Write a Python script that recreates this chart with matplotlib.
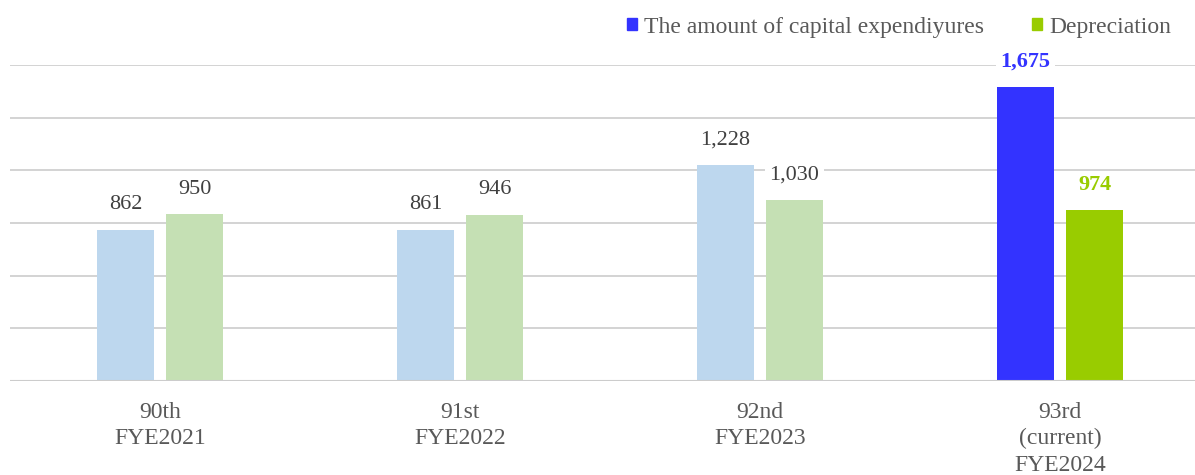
import matplotlib
matplotlib.use('Agg')
import matplotlib.pyplot as plt
import numpy as np

plt.rcParams['font.family'] = ['Liberation Serif', 'DejaVu Serif']

categories = ['90th\nFYE2021', '91st\nFYE2022', '92nd\nFYE2023', '93rd\n(current)\nFYE2024']
capex = [862, 861, 1228, 1675]
depreciation = [950, 946, 1030, 974]
capex_colors = ['#BDD7EE', '#BDD7EE', '#BDD7EE', '#3333FF']
dep_colors = ['#C5E0B4', '#C5E0B4', '#C5E0B4', '#99CC00']

fig = plt.figure(figsize=(11.95, 4.75), dpi=100)
ax = fig.add_axes([10 / 1195, 1 - 381 / 475, 1 - 10 / 1195, (381 - 65) / 475])

x = np.arange(len(categories))
w = 0.19
off = 0.115
ax.bar(x - off, capex, w, color=capex_colors, zorder=3)
ax.bar(x + off, depreciation, w, color=dep_colors, zorder=3)

for i in range(len(categories)):
    last = i == len(categories) - 1
    for xv, v, c in [(x[i] - off, capex[i], '#3333FF'), (x[i] + off, depreciation[i], '#99CC00')]:
        ax.annotate(f'{v:,}', (xv, v), xytext=(0, 18), textcoords='offset points',
                    ha='center', va='center', fontsize=16,
                    color=c if last else '#404040',
                    fontweight='bold' if last else 'normal',
                    bbox=dict(boxstyle='square,pad=0.2', fc='white', ec='none'),
                    zorder=5, annotation_clip=False)

ax.set_xlim(-0.5, 3.45)
ax.set_ylim(0, 1800)
ax.set_yticks(np.arange(0, 1801, 300))
ax.set_yticklabels([])
ax.tick_params(axis='y', length=0)
ax.tick_params(axis='x', length=0, pad=15)
ax.set_xticks(x)
ax.set_xticklabels(categories, fontsize=17, color='#595959', linespacing=1.33)
ax.grid(axis='y', color='#d0d0d0', linewidth=1.3, zorder=0)
for s in ax.spines.values():
    s.set_visible(False)
ax.axhline(0, color='#cccccc', linewidth=1.5, zorder=4)

handles = [plt.Rectangle((0, 0), 1, 1, color='#3333FF'),
           plt.Rectangle((0, 0), 1, 1, color='#99CC00')]
fig.legend(handles, ['The amount of capital expendiyures', 'Depreciation'],
           loc='center right', bbox_to_anchor=(0.98, 1 - 27 / 475), ncol=2,
           frameon=False, fontsize=17, labelcolor='#595959',
           handlelength=0.45, handleheight=0.45, handletextpad=0.3, columnspacing=2.0,
           borderaxespad=0, borderpad=0)

fig.savefig('out.png', dpi=100)
